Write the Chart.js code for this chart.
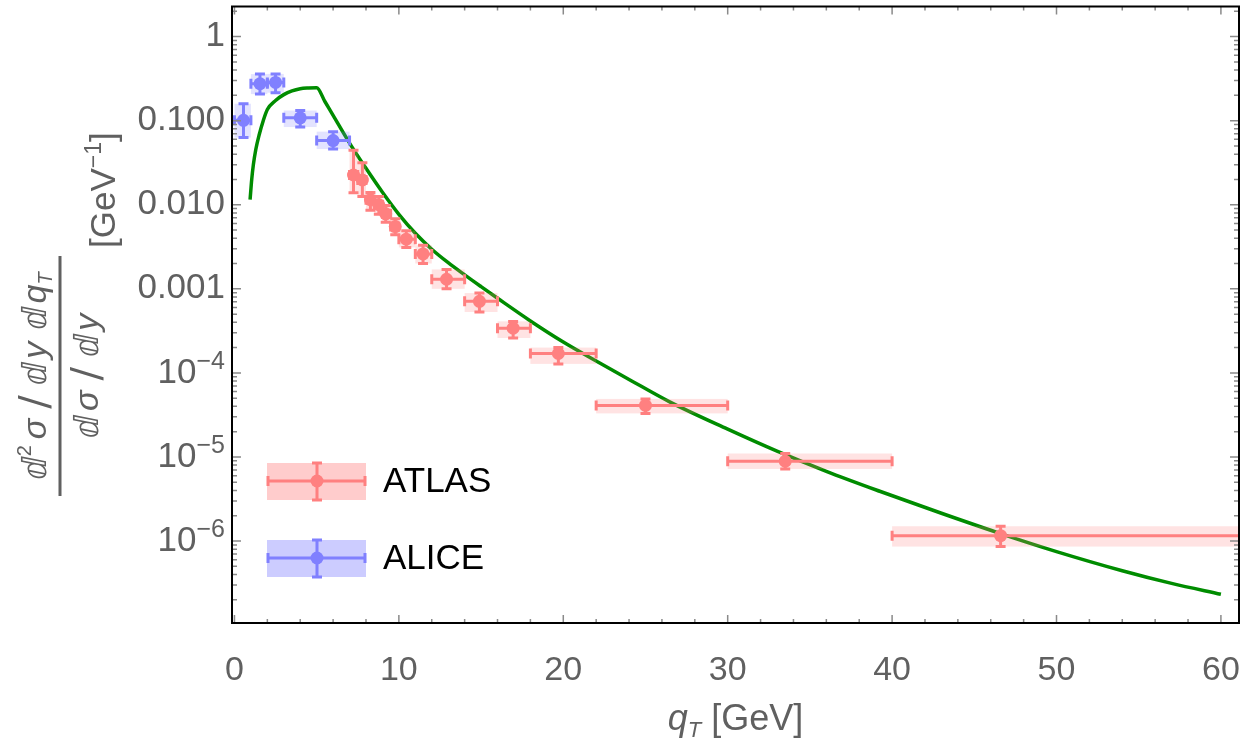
<!DOCTYPE html>
<html>
<head>
<meta charset="utf-8">
<script src="https://cdn.jsdelivr.net/npm/chart.js@4.4.1/dist/chart.umd.min.js"></script>
<style>
  html, body { margin: 0; padding: 0; background: #fff; }
  #wrap { width: 1250px; height: 742px; position: relative; }
</style>
</head>
<body>
<div id="wrap"><canvas id="myChart"></canvas></div>
<script>
// ATLAS points (bin centre, value, bin edges, error range)
const atlasX = [7.24, 7.78, 8.27, 8.78, 9.2, 9.78, 10.45, 11.47, 12.9, 14.9, 16.95, 19.7, 25.0, 33.5, 46.6];
const atlasY = [0.0226, 0.0197, 0.0115, 0.0100, 0.0078, 0.0055, 0.0039, 0.0026, 0.0013, 0.00071, 0.00034, 0.00017, 4.1e-5, 8.9e-6, 1.16e-6];
const atlasXlo = [7.0, 7.5, 8.0, 8.5, 9.0, 9.5, 10, 11, 12, 14, 16, 18, 22, 30, 40];
const atlasXhi = [7.5, 8.0, 8.5, 9.0, 9.5, 10, 11, 12, 14, 16, 18, 22, 30, 40, 70];
const atlasYlo = [0.0139, 0.0125, 0.0086, 0.0077, 0.0062, 0.0044, 0.0031, 0.0020, 0.0010, 0.00053, 0.00026, 0.000128, 3.3e-5, 7.2e-6, 8.6e-7];
const atlasYhi = [0.0446, 0.0316, 0.0140, 0.0125, 0.0098, 0.0068, 0.0049, 0.0033, 0.0017, 0.00089, 0.00041, 0.00020, 4.9e-5, 1.1e-5, 1.5e-6];

// ALICE points
const aliceX = [0.55, 1.55, 2.5, 4.0, 6.0];
const aliceY = [0.101, 0.275, 0.285, 0.108, 0.058];
const aliceXlo = [0, 1, 2, 3, 5];
const aliceXhi = [1, 2, 3, 5, 7];
const aliceYlo = [0.063, 0.207, 0.215, 0.084, 0.046];
const aliceYhi = [0.159, 0.358, 0.36, 0.132, 0.074];

// theory curve
const curveX = [0.95, 1.05, 1.15, 1.3, 1.5, 1.75, 2.0, 2.5, 3.0, 3.5, 4.0, 4.5, 5.0, 5.5, 6.0, 7.0, 8.0, 9.0, 10, 11, 12, 13, 14, 15, 16, 18, 20, 22, 24, 26.5, 30, 33, 36, 39.25, 43, 46.5, 50, 54, 57, 60];
const curveY = [0.0115, 0.020, 0.030, 0.0457, 0.0676, 0.100, 0.136, 0.174, 0.204, 0.226, 0.240, 0.245, 0.247, 0.169, 0.1156, 0.0541, 0.0271, 0.01406, 0.00769, 0.00458, 0.00296, 0.002046, 0.001466, 0.001062, 0.000773, 0.000415, 0.000233, 0.0001387, 8.36e-5, 4.49e-5, 2.14e-5, 1.172e-5, 6.75e-6, 3.91e-6, 2.14e-6, 1.245e-6, 7.5e-7, 4.44e-7, 3.14e-7, 2.33e-7];

// axes
const xTicks = [0, 10, 20, 30, 40, 50, 60];
const yPowers = [0, -1, -2, -3, -4, -5, -6];
const yLabels = ["1", "0.100", "0.010", "0.001", "10", "10", "10"];

const RED = "rgb(255,128,128)";
const BLUE = "rgb(128,128,255)";
const GRAY = "#606060";
const SANS = "'Liberation Sans', Arial, sans-serif";

function drawErrors(chart, xs, ys, xlo, xhi, ylo, yhi, color, boxColor) {
  const ctx = chart.ctx;
  const sx = chart.scales.x, sy = chart.scales.y;
  const a = chart.chartArea;
  ctx.save();
  ctx.beginPath();
  ctx.rect(a.left, a.top, a.right - a.left, a.bottom - a.top);
  ctx.clip();
  // shaded boxes
  ctx.fillStyle = boxColor;
  for (let i = 0; i < xs.length; i++) {
    const x0 = sx.getPixelForValue(xlo[i]), x1 = sx.getPixelForValue(xhi[i]);
    const y0 = sy.getPixelForValue(yhi[i]), y1 = sy.getPixelForValue(ylo[i]);
    ctx.fillRect(x0, y0, x1 - x0, y1 - y0);
  }
  // error bars
  ctx.strokeStyle = color;
  ctx.lineWidth = 3;
  for (let i = 0; i < xs.length; i++) {
    const px = sx.getPixelForValue(xs[i]), py = sy.getPixelForValue(ys[i]);
    const x0 = sx.getPixelForValue(xlo[i]), x1 = sx.getPixelForValue(xhi[i]);
    const y0 = sy.getPixelForValue(yhi[i]), y1 = sy.getPixelForValue(ylo[i]);
    ctx.beginPath();
    ctx.moveTo(x0, py); ctx.lineTo(x1, py);
    ctx.moveTo(x0, py - 5); ctx.lineTo(x0, py + 5);
    ctx.moveTo(x1, py - 5); ctx.lineTo(x1, py + 5);
    ctx.moveTo(px, y0); ctx.lineTo(px, y1);
    ctx.moveTo(px - 5, y0); ctx.lineTo(px + 5, y0);
    ctx.moveTo(px - 5, y1); ctx.lineTo(px + 5, y1);
    ctx.stroke();
  }
  ctx.restore();
}

// text pieces drawn left to right; g = extra gap after a piece
function richWidth(ctx, parts) {
  let w = 0;
  for (const p of parts) { ctx.font = p.f; w += ctx.measureText(p.t).width + (p.g || 0); }
  return w;
}
function richText(ctx, parts, x, y) {
  for (const p of parts) {
    ctx.font = p.f;
    ctx.fillText(p.t, x, y + (p.dy || 0));
    x += ctx.measureText(p.t).width + (p.g || 0);
  }
}

const decoPlugin = {
  id: "deco",
  beforeDatasetDraw(chart, args) {
    if (args.index === 1) drawErrors(chart, atlasX, atlasY, atlasXlo, atlasXhi, atlasYlo, atlasYhi, RED, "rgba(255,128,128,0.22)");
    if (args.index === 2) drawErrors(chart, aliceX, aliceY, aliceXlo, aliceXhi, aliceYlo, aliceYhi, BLUE, "rgba(128,128,255,0.22)");
  },
  afterDraw(chart) {
    const ctx = chart.ctx;
    const a = chart.chartArea;
    const sx = chart.scales.x, sy = chart.scales.y;
    ctx.save();

    // frame ticks
    ctx.strokeStyle = "#8a8a8a";
    ctx.lineWidth = 1.5;
    ctx.beginPath();
    for (let v = 0; v <= 60; v += 2) {
      const px = sx.getPixelForValue(v);
      const len = v % 10 === 0 ? 8 : 4;
      ctx.moveTo(px, a.bottom); ctx.lineTo(px, a.bottom - len);
      ctx.moveTo(px, a.top); ctx.lineTo(px, a.top + len);
    }
    for (let e = -7; e <= 0; e++) {
      for (let k = 1; k <= 9; k++) {
        const v = k * Math.pow(10, e);
        if (v < sy.min || v > sy.max) continue;
        const py = sy.getPixelForValue(v);
        const len = k === 1 ? 9 : 5;
        ctx.moveTo(a.left, py); ctx.lineTo(a.left + len, py);
        ctx.moveTo(a.right, py); ctx.lineTo(a.right - len, py);
      }
    }
    ctx.stroke();

    // frame
    ctx.strokeStyle = "#000";
    ctx.lineWidth = 2;
    ctx.strokeRect(a.left, a.top, a.right - a.left, a.bottom - a.top);

    // y tick labels
    ctx.fillStyle = GRAY;
    ctx.textBaseline = "middle";
    ctx.textAlign = "left";
    yPowers.forEach((p, i) => {
      const py = sy.getPixelForValue(Math.pow(10, p));
      const parts = [{ t: yLabels[i], f: "35px " + SANS }];
      if (p <= -4) parts.push({ t: "\u2212" + (-p), f: "25px " + SANS, dy: -11 });
      const w = richWidth(ctx, parts);
      richText(ctx, parts, 225 - w, py);
    });

    // x title
    ctx.textBaseline = "alphabetic";
    const xt = [
      { t: "q", f: "italic 36px " + SANS },
      { t: "T", f: "italic 22px " + SANS, dy: 7 },
      { t: " [GeV]", f: "36px " + SANS }
    ];
    richText(ctx, xt, (a.left + a.right) / 2 - richWidth(ctx, xt) / 2, 730);

    // y title, rotated
    ctx.save();
    ctx.translate(60, 376);
    ctx.rotate(-Math.PI / 2);
    const D = "33px 'DejaVu Sans', sans-serif";
    const I = "italic 34px " + SANS;
    const SL = "40px 'DejaVu Sans', sans-serif";
    const num = [
      { t: "\u2146", f: D }, { t: "2", f: "20px " + SANS, dy: -15, g: 6 },
      { t: "\u03c3", f: I, g: 10 }, { t: "/", f: SL, dy: 2, g: 10 },
      { t: "\u2146", f: D, g: 3 }, { t: "y", f: I, g: 12 },
      { t: "\u2146", f: D, g: 3 }, { t: "q", f: I }, { t: "T", f: "italic 20px " + SANS, dy: 6 }
    ];
    const den = [
      { t: "\u2146", f: D, g: 4 }, { t: "\u03c3", f: I, g: 10 }, { t: "/", f: SL, dy: 2, g: 10 },
      { t: "\u2146", f: D, g: 3 }, { t: "y", f: I }
    ];
    richText(ctx, num, -richWidth(ctx, num) / 2, -14);
    richText(ctx, den, -richWidth(ctx, den) / 2, 38);
    ctx.fillRect(-120, -1.5, 240, 3);
    const unit = [
      { t: "[GeV", f: "35px " + SANS },
      { t: "\u22121", f: "23px " + SANS, dy: -14 },
      { t: "]", f: "35px " + SANS }
    ];
    richText(ctx, unit, 128, 55);
    ctx.restore();

    // legend
    const legend = [
      { name: "ATLAS", color: RED, box: "rgba(255,128,128,0.4)", y: 481 },
      { name: "ALICE", color: BLUE, box: "rgba(128,128,255,0.4)", y: 558 }
    ];
    legend.forEach(l => {
      ctx.fillStyle = l.box;
      ctx.fillRect(267, l.y - 18, 99, 37);
      ctx.strokeStyle = l.color;
      ctx.lineWidth = 3;
      ctx.beginPath();
      ctx.moveTo(267, l.y); ctx.lineTo(366, l.y);
      ctx.moveTo(268, l.y - 5); ctx.lineTo(268, l.y + 5);
      ctx.moveTo(365, l.y - 5); ctx.lineTo(365, l.y + 5);
      ctx.moveTo(317, l.y - 18); ctx.lineTo(317, l.y + 19);
      ctx.moveTo(312, l.y - 18); ctx.lineTo(322, l.y - 18);
      ctx.moveTo(312, l.y + 19); ctx.lineTo(322, l.y + 19);
      ctx.stroke();
      ctx.fillStyle = l.color;
      ctx.beginPath();
      ctx.arc(317, l.y, 6.5, 0, Math.PI * 2);
      ctx.fill();
      ctx.fillStyle = "#000";
      ctx.font = "35px " + SANS;
      ctx.textBaseline = "middle";
      ctx.fillText(l.name, 383, l.y + 1);
    });

    ctx.restore();
  }
};

const ctx = document.getElementById("myChart");

new Chart(ctx, {
  type: "scatter",
  data: {
    datasets: [
      {
        type: "line",
        data: curveX.map((x, i) => ({ x: x, y: curveY[i] })),
        borderColor: "rgb(0,140,0)",
        borderWidth: 3.5,
        pointRadius: 0,
        cubicInterpolationMode: "monotone",
        fill: false,
        order: 3
      },
      {
        data: atlasX.map((x, i) => ({ x: x, y: atlasY[i] })),
        backgroundColor: RED,
        borderWidth: 0,
        pointRadius: 6.5,
        order: 2
      },
      {
        data: aliceX.map((x, i) => ({ x: x, y: aliceY[i] })),
        backgroundColor: BLUE,
        borderWidth: 0,
        pointRadius: 6.5,
        order: 1
      }
    ]
  },
  options: {
    responsive: true,
    maintainAspectRatio: false,
    animation: false,
    layout: { padding: { top: 2, right: 11, left: 0, bottom: 0 } },
    plugins: { legend: { display: false }, tooltip: { enabled: false } },
    scales: {
      x: {
        type: "linear",
        min: -0.15,
        max: 61.1,
        grid: { display: false },
        border: { display: false },
        afterBuildTicks: (scale) => { scale.ticks = xTicks.map(v => ({ value: v })); },
        afterFit: (scale) => {
          scale.height = 119;
          scale.paddingLeft = 0;
          scale.paddingRight = 0;
        },
        ticks: {
          color: GRAY,
          font: { family: SANS, size: 34 },
          padding: 19,
          maxRotation: 0
        }
      },
      y: {
        type: "logarithmic",
        min: 1.06e-7,
        max: 2.28,
        grid: { display: false },
        border: { display: false },
        ticks: { display: false },
        afterFit: (scale) => { scale.width = 232; }
      }
    }
  },
  plugins: [decoPlugin]
});
</script>
</body>
</html>
